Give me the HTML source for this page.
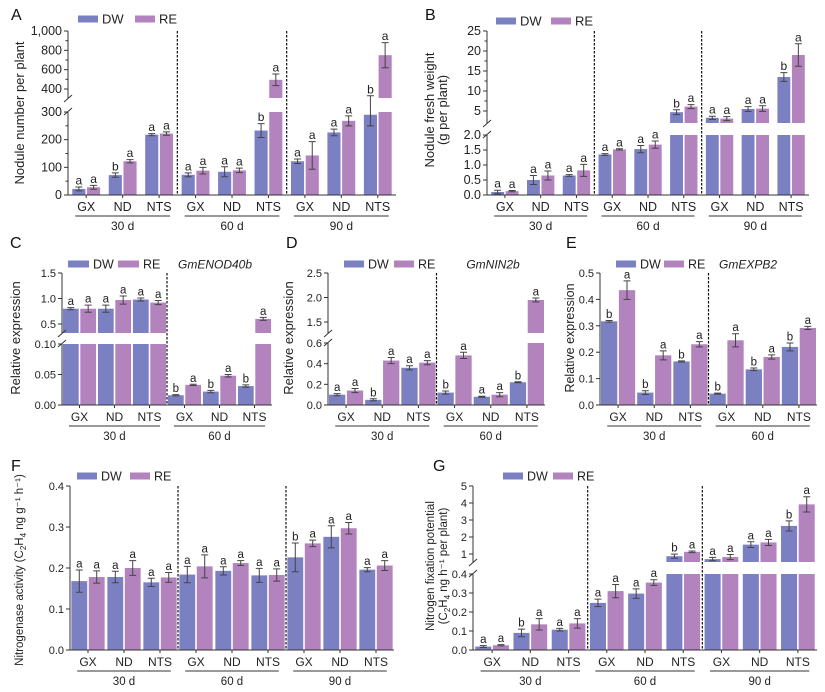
<!DOCTYPE html>
<html><head><meta charset="utf-8"><style>
body{margin:0;background:#fff;}
svg{display:block;font-family:"Liberation Sans",Arial,sans-serif;}
</style></head><body>
<svg id="fig" width="825" height="692" viewBox="0 0 825 692"></svg>
<script>
// ---- data ----
const categories = ["GX","ND","NTS"];
const groupsA = ["30 d","60 d","90 d"];
const groupsC = ["30 d","60 d"];
// Panel A
const aDW = [22,72,218, 73,84,233, 122,226,290];
const aRE = [28,122,222, 88,89,495, 143,268,750];
const aDWerr = [7,8,4, 7,18,25, 8,12,40];
const aREerr = [7,6,6, 12,8,60, 50,18,130];
const aDWlet = ["a","b","a","a","a","b","a","a","b"];
const aRElet = ["a","a","a","a","a","a","a","a","a"];
// Panel B
const bDW = [0.1,0.5,0.65, 1.35,1.53,4.7, 3.3,5.5,13.5];
const bRE = [0.13,0.65,0.82, 1.52,1.68,6.1, 3.1,5.6,19];
const bDWerr = [0.06,0.15,0.03, 0.03,0.12,0.6, 0.4,0.6,1.1];
const bREerr = [0.02,0.15,0.2, 0.02,0.12,0.5, 0.5,0.7,2.8];
const bDWlet = ["a","a","a","a","a","b","a","a","b"];
const bRElet = ["a","a","a","a","a","a","a","a","a"];
// Panel C
const cDW = [0.80,0.80,0.98, 0.016,0.022,0.031];
const cRE = [0.80,0.97,0.92, 0.033,0.048,0.60];
const cDWerr = [0.02,0.07,0.03, 0.001,0.002,0.002];
const cREerr = [0.07,0.08,0.04, 0.001,0.002,0.03];
const cDWlet = ["a","a","a","b","b","b"];
const cRElet = ["a","a","a","a","a","a"];
// Panel D
const dDW = [0.10,0.05,0.36, 0.12,0.08,0.22];
const dRE = [0.14,0.43,0.41, 0.48,0.10,1.95];
const dDWerr = [0.01,0.01,0.02, 0.015,0.005,0.005];
const dREerr = [0.02,0.03,0.02, 0.03,0.02,0.04];
const dDWlet = ["a","b","a","b","a","b"];
const dRElet = ["a","a","a","a","a","a"];
// Panel E
const eDW = [0.317,0.047,0.165, 0.043,0.135,0.22];
const eRE = [0.435,0.188,0.23, 0.245,0.182,0.292];
const eDWerr = [0.003,0.007,0.002, 0.002,0.005,0.015];
const eREerr = [0.035,0.017,0.01, 0.025,0.008,0.006];
const eDWlet = ["b","b","b","b","b","b"];
const eRElet = ["a","a","a","a","a","a"];
// Panel F
const fDW = [0.168,0.178,0.165, 0.184,0.193,0.182, 0.226,0.276,0.196];
const fRE = [0.178,0.200,0.177, 0.204,0.212,0.183, 0.260,0.297,0.206];
const fDWerr = [0.027,0.014,0.01, 0.02,0.01,0.017, 0.035,0.027,0.005];
const fREerr = [0.015,0.018,0.012, 0.028,0.006,0.015, 0.008,0.014,0.012];
const fDWlet = ["a","a","a","a","a","a","b","a","a"];
const fRElet = ["a","a","a","a","a","a","a","a","a"];
// Panel G
const gDW = [0.018,0.09,0.107, 0.248,0.297,0.87, 0.7,1.55,2.65];
const gRE = [0.025,0.135,0.14, 0.31,0.355,1.13, 0.82,1.68,3.92];
const gDWerr = [0.005,0.02,0.007, 0.02,0.025,0.12, 0.1,0.17,0.3];
const gREerr = [0.003,0.03,0.025, 0.035,0.015,0.05, 0.15,0.18,0.45];
const gDWlet = ["a","b","a","a","a","b","a","a","b"];
const gRElet = ["a","a","a","a","a","a","a","a","a"];

const NS="http://www.w3.org/2000/svg";
const svg=document.getElementById('fig');
const DWC="#7b80c3", REC="#b283bd";
function mk(tag,attrs,parent,text){const e=document.createElementNS(NS,tag);for(const k in attrs)e.setAttribute(k,attrs[k]);if(text!==undefined)e.textContent=text;(parent||svg).appendChild(e);return e;}

function panel(p){
  const g=mk('g',{});
  
  
  const br=p.brk;
  let upSlope=0,upMin=0;
  if(br){upSlope=(br.ub[1]-br.ua[1])/(br.ub[0]-br.ua[0]);upMin=br.ua[0]+(br.segBot-br.ua[1])/upSlope;}
  const lowMax=br?br.lowMax:p.max, lowTop=br?br.lowTop:p.top;
  function y(v){
    if(br&&v>lowMax&&v>=upMin) return br.ua[1]+(v-br.ua[0])*upSlope;
    return p.y0-v/lowMax*(p.y0-lowTop);
  }
  const topY=br?y(br.ub[0]):p.top;
  const ng=p.groups.length, gw=(p.x1-p.x0)/ng, sp=gw/3, bw=sp*p.bwf;
  const series=[[p.dw,p.dwe,p.dwl,DWC,'dw'],[p.re,p.ree,p.rel,REC,'re']];
  for(let i=0;i<p.dw.length;i++){
    const gi=Math.floor(i/3), ci=i%3;
    const cx=p.x0+gi*gw+(ci+0.5)*sp;
    series.forEach((s,si)=>{
      const v=s[0][i], e=s[1][i];
      const bx=si===0?cx-bw-0.8:cx+0.8;
      if(!br||v<=lowMax){
        const r=mk('rect',{x:bx,y:y(v),width:bw,height:p.y0-y(v),fill:s[3]},g);
        
        
      }else{
        const r=mk('rect',{x:bx,y:lowTop,width:bw,height:p.y0-lowTop,fill:s[3]},g);
        
        
        const r2=mk('rect',{x:bx,y:y(v),width:bw,height:br.segBot-y(v),fill:s[3]},g);
        
        
      }
      const bc=bx+bw/2, yt=y(v+e), yb=y(Math.max(v-e,0));
      const eb=mk('path',{d:`M${bc},${yb}V${yt}M${bc-3.5},${yt}H${bc+3.5}M${bc-3.5},${yb}H${bc+3.5}`,stroke:'#444',fill:'none','stroke-width':1},g);
      
      
      const lt=mk('text',{x:bc,y:yt-2.5,'font-size':p.lf,'text-anchor':'middle',fill:'#222'},g,s[2][i]);
      
      
    });
  }
  for(let k=1;k<ng;k++){
    const dx=p.x0+k*gw;
    const d=mk('line',{x1:dx,x2:dx,y1:topY,y2:p.y0,stroke:'#111','stroke-width':1.2,'stroke-dasharray':'2.5,1.5'},g);
    
    
  }
  const ax=mk('g',{stroke:'#333','stroke-width':1,fill:'none'},g);
  
  
  mk('line',{x1:p.x0,x2:p.x1,y1:p.y0,y2:p.y0},ax);
  mk('line',{x1:p.x0,x2:p.x0,y1:p.y0,y2:lowTop},ax);
  if(br){
    mk('line',{x1:p.x0,x2:p.x0,y1:br.segBot,y2:topY},ax);
    mk('line',{x1:p.x0-4,x2:p.x0+4,y1:lowTop+3,y2:lowTop-4},ax);
    mk('line',{x1:p.x0-4,x2:p.x0+4,y1:br.segBot+4,y2:br.segBot-3},ax);
  }
  (p.ticks).forEach((t,ti)=>{
    const ty=y(t);
    mk('line',{x1:p.x0-4,x2:p.x0,y1:ty,y2:ty},ax);
    const tl=mk('text',{x:p.x0-6,y:ty+4,'font-size':p.tf,'text-anchor':'end',fill:'#222',stroke:'none'},g,p.tickLabels[ti]);
    
    
  });
  (p.minor||[]).forEach(t=>{const ty=y(t);mk('line',{x1:p.x0-2.5,x2:p.x0,y1:ty,y2:ty},ax);});
  const xb=p.y0;
  for(let gi=0;gi<ng;gi++){
    for(let ci=0;ci<3;ci++){
      const cx=p.x0+gi*gw+(ci+0.5)*sp;
      mk('line',{x1:cx,x2:cx,y1:xb,y2:xb+3,stroke:'#333'},g);
      const xl=mk('text',{x:cx,y:xb+16,'font-size':p.xf,'text-anchor':'middle',fill:'#222'},g,categories[ci]);
      
      
    }
    const ul=mk('line',{x1:p.x0+gi*gw+sp*0.2,x2:p.x0+(gi+1)*gw-sp*0.2,y1:xb+21,y2:xb+21,stroke:'#333','stroke-width':1},g);
    
    
    const gl=mk('text',{x:p.x0+(gi+0.5)*gw,y:xb+35,'font-size':p.xf-0.5,'text-anchor':'middle',fill:'#222'},g,p.groups[gi]);
    
    
  }
  const pl=mk('text',{x:p.lx,y:p.ly,'font-size':16,fill:'#111'},g,p.id);
  
  
  const lg=mk('g',{},g);
  
  
  mk('rect',{x:p.leg[0],y:p.leg[2]-3.5,width:p.leg[4],height:7,fill:DWC},lg);
  mk('text',{x:p.leg[0]+p.leg[4]+4,y:p.leg[2]+4.5,'font-size':p.legf,fill:'#222'},lg,'DW');
  mk('rect',{x:p.leg[1],y:p.leg[2]-3.5,width:p.leg[4],height:7,fill:REC},lg);
  mk('text',{x:p.leg[1]+p.leg[4]+4,y:p.leg[2]+4.5,'font-size':p.legf,fill:'#222'},lg,'RE');
  if(p.gene){
    const gt=mk('text',{x:p.gene[1],y:p.leg[2]+4.5,'font-size':12,'font-style':'italic','text-anchor':'middle',fill:'#222'},g,p.gene[0]);
    
    
  }
  p.ytitle.forEach((t,i)=>{
    const tx=p.ytx+i*13;
    const tt=mk('text',{x:tx,y:p.yty,'font-size':p.ytf,'text-anchor':'middle',fill:'#222',transform:`rotate(-90 ${tx} ${p.yty})`},g);
    tt.innerHTML=t;
    
    
  });
}

panel({id:'A',x0:68,x1:396,y0:195,brk:{lowMax:300,lowTop:112,ua:[400,89],ub:[1000,31],segBot:98},
  groups:groupsA,dw:aDW,re:aRE,dwe:aDWerr,ree:aREerr,dwl:aDWlet,rel:aRElet,bwf:0.36,
  ticks:[0,100,200,300,400,600,800,1000],tickLabels:["0","100","200","300","400","600","800","1,000"],
  minor:[50,150,250,500,700,900],tf:12.5,xf:12.5,lf:12,lx:11,ly:20,leg:[78,135,19,0,20],legf:13,
  ytitle:["Nodule number per plant"],ytx:24,yty:113,ytf:13});
panel({id:'B',x0:487,x1:809,y0:195,brk:{lowMax:2,lowTop:135,ua:[5,111],ub:[25,31],segBot:123},
  groups:groupsA,dw:bDW,re:bRE,dwe:bDWerr,ree:bREerr,dwl:bDWlet,rel:bRElet,bwf:0.36,
  ticks:[0,0.5,1,1.5,2,5,10,15,20,25],tickLabels:["0.0","0.5","1.0","1.5","2.0","5","10","15","20","25"],
  minor:[7.5,12.5,17.5,22.5],tf:12.5,xf:12.5,lf:12,lx:425,ly:20,leg:[496,551,21,0,20],legf:13,
  ytitle:["Nodule fresh weight","(g per plant)"],ytx:434,yty:110,ytf:13});
panel({id:'C',x0:62,x1:272,y0:405,brk:{lowMax:0.10,lowTop:344,ua:[0.5,324],ub:[1.5,273],segBot:333},
  groups:groupsC,dw:cDW,re:cRE,dwe:cDWerr,ree:cREerr,dwl:cDWlet,rel:cRElet,bwf:0.45,
  ticks:[0,0.05,0.10,0.5,1.0,1.5],tickLabels:["0.00","0.05","0.10","0.5","1.0","1.5"],
  tf:11,xf:12,lf:11.5,lx:10,ly:248,leg:[68,118,264,0,21],legf:12.5,gene:["GmENOD40b",215],
  ytitle:["Relative expression"],ytx:20,yty:338,ytf:13});
panel({id:'D',x0:328,x1:545,y0:405,brk:{lowMax:0.6,lowTop:343,ua:[1.5,322],ub:[2.5,273],segBot:333},
  groups:groupsC,dw:dDW,re:dRE,dwe:dDWerr,ree:dREerr,dwl:dDWlet,rel:dRElet,bwf:0.45,
  ticks:[0,0.2,0.4,0.6,1.5,2.0,2.5],tickLabels:["0.0","0.2","0.4","0.6","1.5","2.0","2.5"],
  tf:11,xf:12,lf:11.5,lx:286,ly:248,leg:[344,394,264,0,20],legf:12.5,gene:["GmNIN2b",493],
  ytitle:["Relative expression"],ytx:293,yty:338,ytf:13});
panel({id:'E',x0:600,x1:817,y0:405,max:0.5,top:273,
  groups:groupsC,dw:eDW,re:eRE,dwe:eDWerr,ree:eREerr,dwl:eDWlet,rel:eRElet,bwf:0.45,
  ticks:[0,0.1,0.2,0.3,0.4,0.5],tickLabels:["0.0","0.1","0.2","0.3","0.4","0.5"],
  tf:11,xf:12,lf:11.5,lx:566,ly:248,leg:[616,664,264,0,20],legf:12.5,gene:["GmEXPB2",748],
  ytitle:["Relative expression"],ytx:574,yty:338,ytf:12.5});
panel({id:'F',x0:70,x1:394,y0:650,max:0.4,top:486,
  groups:groupsA,dw:fDW,re:fRE,dwe:fDWerr,ree:fREerr,dwl:fDWlet,rel:fRElet,bwf:0.44,
  ticks:[0,0.1,0.2,0.3,0.4],tickLabels:["0.0","0.1","0.2","0.3","0.4"],
  tf:11,xf:12,lf:11.5,lx:11,ly:471,leg:[77,130,476,0,20],legf:12.5,
  ytitle:["Nitrogenase activity (C<tspan font-size='8' dy='3'>2</tspan><tspan dy='-3'>H</tspan><tspan font-size='8' dy='3'>4</tspan><tspan dy='-3'> ng g⁻¹ h⁻¹)</tspan>"],ytx:23,yty:570,ytf:11.5});
panel({id:'G',x0:473,x1:817,y0:650,brk:{lowMax:0.4,lowTop:574,ua:[1,554],ub:[5,486],segBot:562},
  groups:groupsA,dw:gDW,re:gRE,dwe:gDWerr,ree:gREerr,dwl:gDWlet,rel:gRElet,bwf:0.42,
  ticks:[0,0.1,0.2,0.3,0.4,1,2,3,4,5],tickLabels:["0.0","0.1","0.2","0.3","0.4","1","2","3","4","5"],
  tf:11,xf:12,lf:11.5,lx:433,ly:471,leg:[503,553,476,0,20],legf:12.5,
  ytitle:["Nitrogen fixation potential","(C<tspan font-size='8' dy='3'>2</tspan><tspan dy='-3'>H</tspan><tspan font-size='8' dy='3'>4</tspan><tspan dy='-3'> ng h⁻¹ per plant)</tspan>"],ytx:434,yty:566,ytf:11.5});
</script>
</body></html>
